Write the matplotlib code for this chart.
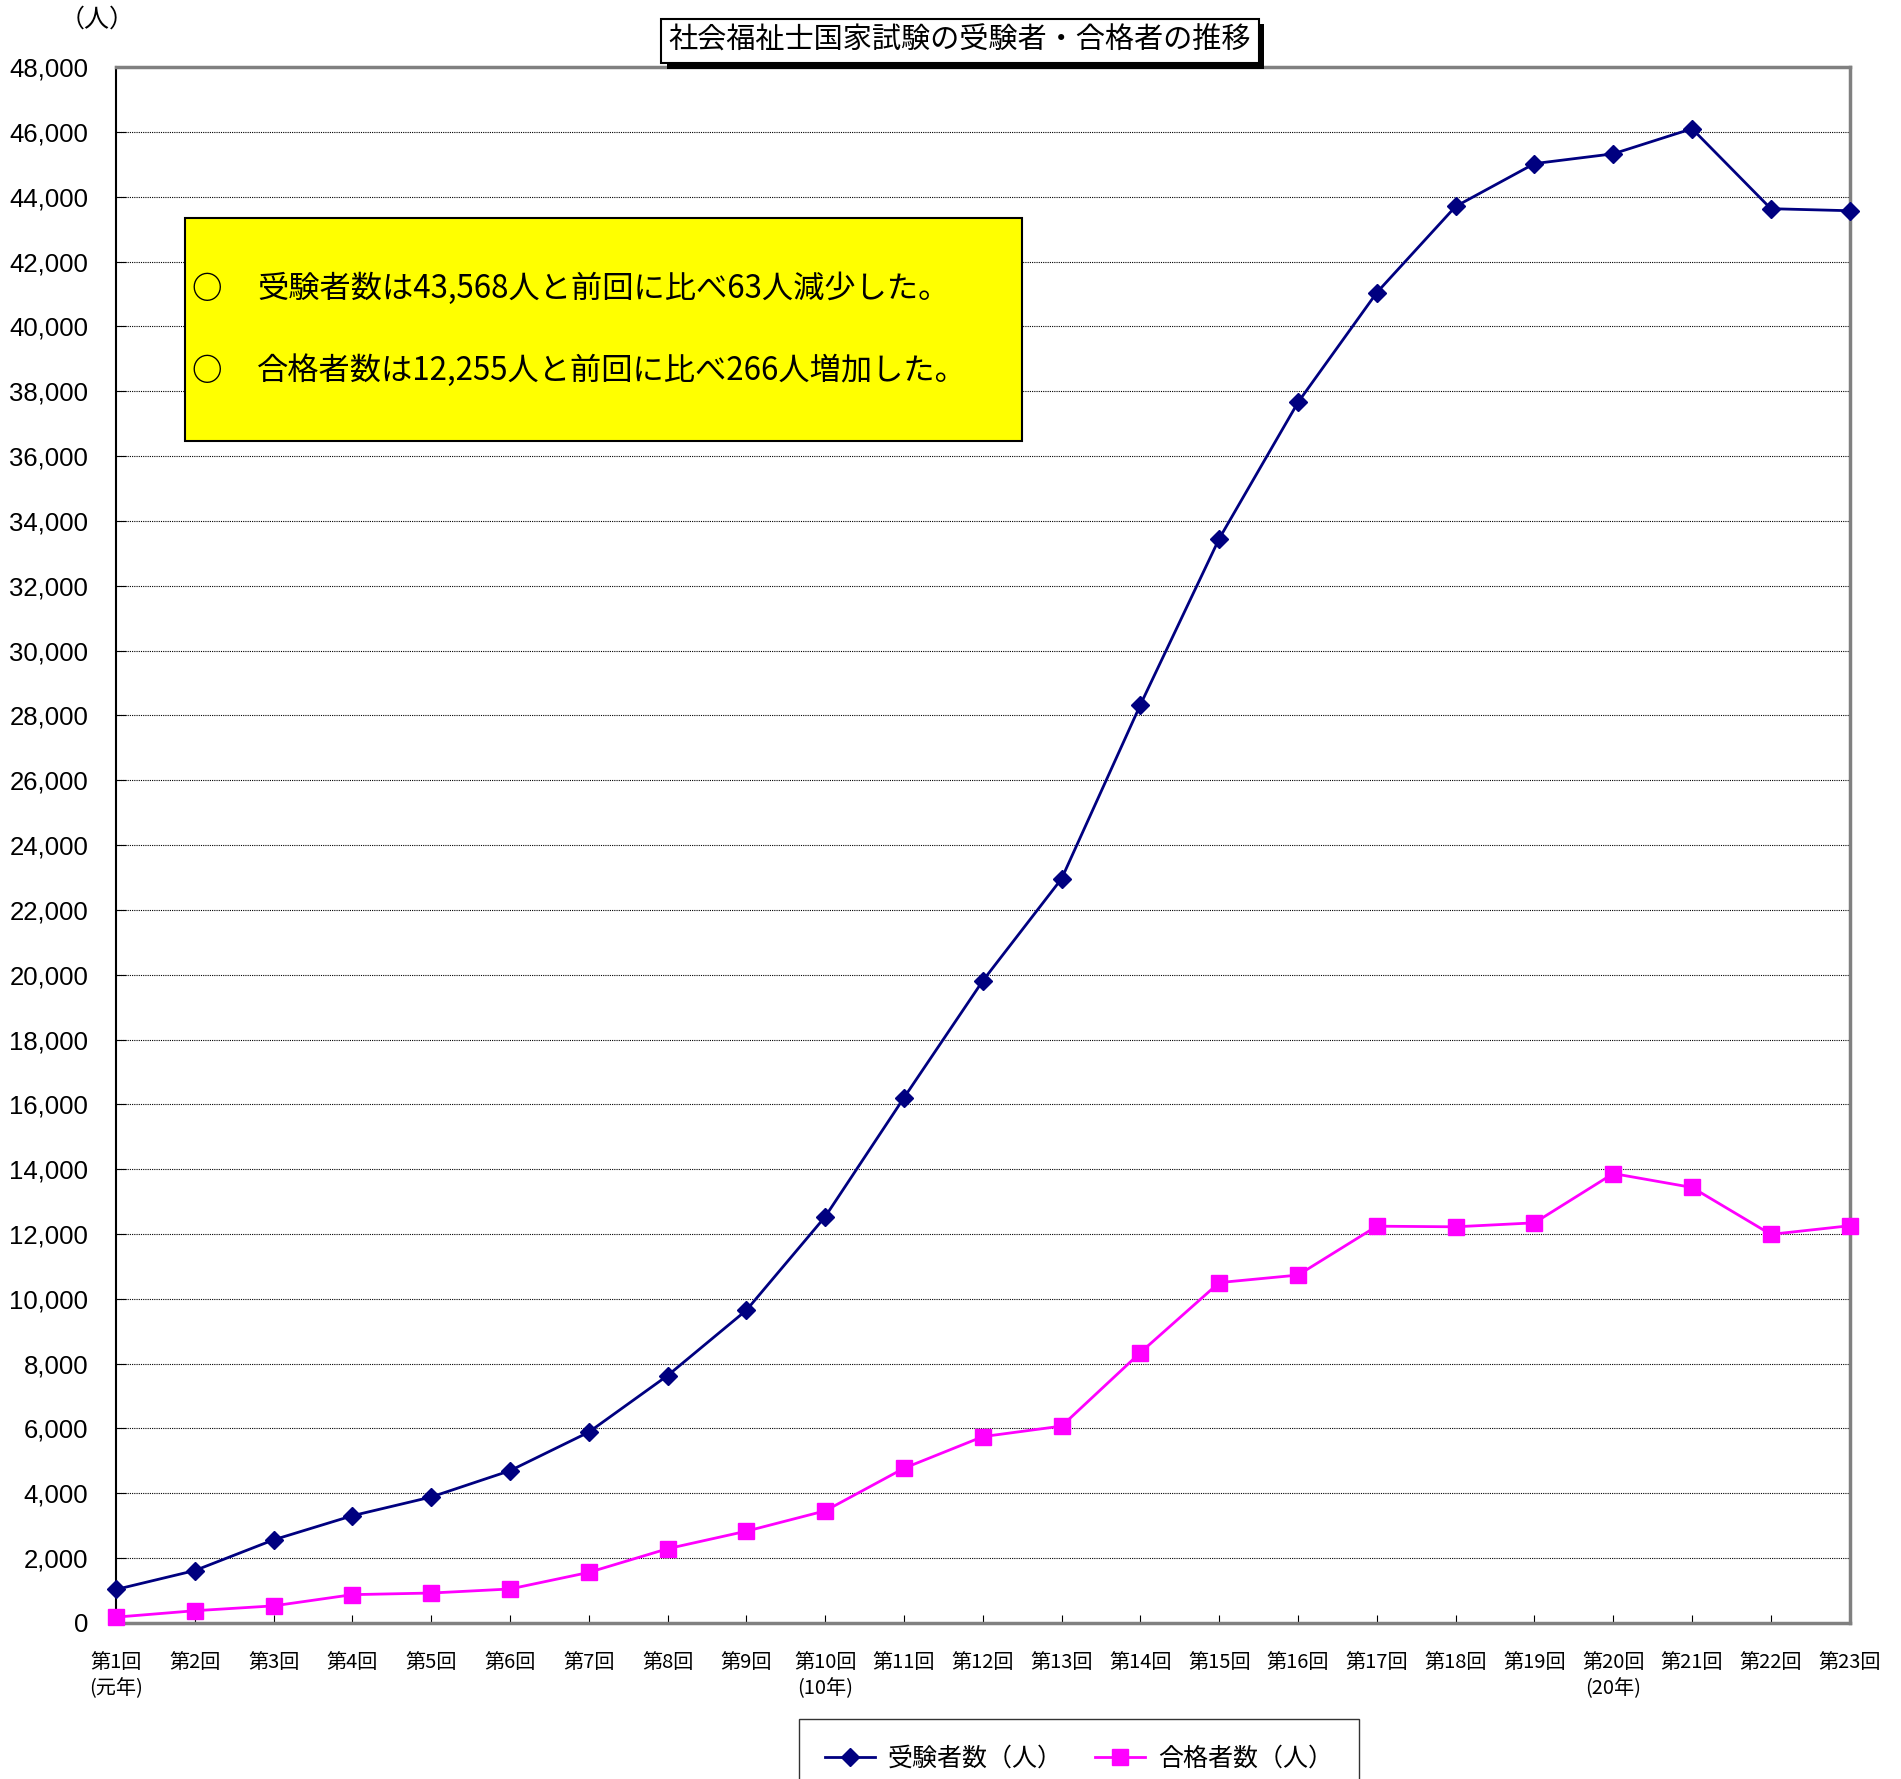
import matplotlib
matplotlib.use("Agg")
from matplotlib import pyplot as plt
from matplotlib.patches import Rectangle
from matplotlib.ticker import FuncFormatter
import matplotlib.patheffects as pe

plt.rcParams['font.family'] = ['Noto Sans CJK JP', 'DejaVu Sans']

# data
rounds = ['第1回\n(元年)', '第2回', '第3回', '第4回', '第5回', '第6回', '第7回',
          '第8回', '第9回', '第10回\n(10年)', '第11回', '第12回', '第13回',
          '第14回', '第15回', '第16回', '第17回', '第18回', '第19回',
          '第20回\n(20年)', '第21回', '第22回', '第23回']
applicants = [1033, 1617, 2565, 3309, 3886, 4698, 5887, 7633, 9649, 12535,
              16206, 19812, 22962, 28329, 33452, 37657, 41044, 43701, 45022,
              45324, 46099, 43631, 43568]
passed = [180, 378, 528, 874, 924, 1049, 1560, 2291, 2832, 3460, 4774, 5749,
          6074, 8343, 10501, 10733, 12241, 12222, 12345, 13865, 13436, 11989,
          12255]
yticks = list(range(0, 48001, 2000))

fig = plt.figure(figsize=(19.01, 17.79), dpi=100)
ax = fig.add_axes([0.061, 0.0877, 0.912, 0.8746])

x = list(range(len(rounds)))
ax.plot(x, applicants, color="#000080", lw=2.0, marker="D", markersize=9,
        label="受験者数（人）", clip_on=False, zorder=4)
ax.plot(x, passed, color="#FF00FF", lw=2.0, marker="s", markersize=11,
        label="合格者数（人）", clip_on=False, zorder=4)

ax.set_xlim(0, len(rounds) - 1)
ax.set_ylim(0, 48000)
ax.set_yticks(yticks)
ax.yaxis.set_major_formatter(FuncFormatter(lambda v, p: f"{int(v):,}"))
ax.set_xticks(x)
ax.set_xticklabels(rounds, fontsize=14.5, linespacing=1.3)
for lab in ax.get_yticklabels():
    lab.set_fontfamily(['Liberation Sans', 'DejaVu Sans'])
    lab.set_fontsize(18.5)
ax.tick_params(axis='y', direction='in', length=7, pad=20)
ax.tick_params(axis='x', direction='in', length=6, pad=21)

ax.grid(axis='y', color='black', linestyle=(0, (1, 1)), linewidth=0.8)
ax.set_axisbelow(True)
ax.spines['left'].set_color('black')
ax.spines['left'].set_linewidth(1.5)
for s in ['top', 'right', 'bottom']:
    ax.spines[s].set_color('#808080')
    ax.spines[s].set_linewidth(2.5)

fig.text(0.051, 0.989, "（人）", fontsize=18, ha='center', va='center')

# title with shadow box
title = fig.text(0.505, 0.977, "社会福祉士国家試験の受験者・合格者の推移",
                 fontsize=21, ha='center', va='center', color='black',
                 bbox=dict(boxstyle='square,pad=0.25', fc='white', ec='black', lw=1.5))
title.get_bbox_patch().set_path_effects([
    pe.SimplePatchShadow(offset=(4, -4), shadow_rgbFace='black', alpha=1.0),
    pe.Normal()])

# yellow note box
fig.patches.append(Rectangle((0.0973, 0.7521), 0.4403, 0.1254,
                             transform=fig.transFigure, fc='#FFFF00',
                             ec='black', lw=1.5, zorder=5))
for yy, msg in [(0.8376, "受験者数は43,568人と前回に比べ63人減少した。"),
                (0.7915, "合格者数は12,255人と前回に比べ266人増加した。")]:
    fig.text(0.1005, yy, "○", fontsize=22, fontweight='bold', ha='left',
             va='center', zorder=6)
    fig.text(0.1352, yy, msg, fontsize=22.5, ha='left', va='center', zorder=6)

leg = fig.legend(loc='upper center', bbox_to_anchor=(0.5676, 0.0337),
                 ncol=2, fontsize=18, frameon=True, fancybox=False,
                 edgecolor='black', handlelength=2.0, handletextpad=0.5,
                 columnspacing=1.3, borderpad=1.05, borderaxespad=0)
leg.get_frame().set_linewidth(1.0)

plt.savefig("out.png", dpi=100)
